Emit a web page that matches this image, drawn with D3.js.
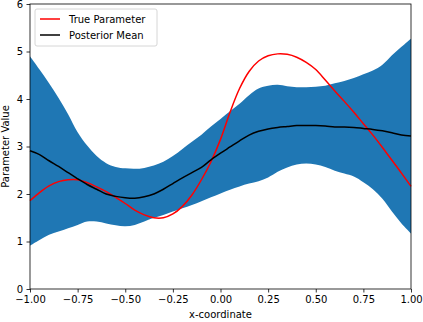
<!DOCTYPE html>
<html>
<head>
<meta charset="utf-8">
<script src="https://cdnjs.cloudflare.com/ajax/libs/d3/7.8.5/d3.min.js"></script>
<style>
  body { margin: 0; background: #fff; }
  text { font-family: "DejaVu Sans", sans-serif; fill: #000; }
</style>
</head>
<body>
<svg width="423" height="322"></svg>
<script>
var svg = d3.select("svg"),
    margin = { left: 30, right: 12, top: 4, bottom: 33 },
    width = 423 - margin.left - margin.right,
    height = 322 - margin.top - margin.bottom;

// x grid for all series, step 0.05
var xs = d3.range(41).map(function (i) { return +(-1 + i * 0.05).toFixed(2); });

var trueParam = [1.86, 2.03, 2.17, 2.26, 2.30, 2.30, 2.24, 2.15, 2.05, 1.93,
                 1.80, 1.66, 1.56, 1.50, 1.50, 1.58, 1.74, 1.98, 2.30, 2.68,
                 3.15, 3.72, 4.22, 4.58, 4.80, 4.91, 4.95, 4.94, 4.88, 4.77,
                 4.62, 4.40, 4.17, 3.95, 3.72, 3.48, 3.24, 2.98, 2.71, 2.44, 2.16];

var postMean = [2.91, 2.83, 2.70, 2.58, 2.45, 2.32, 2.20, 2.10, 2.00, 1.95,
                1.92, 1.91, 1.94, 2.00, 2.10, 2.22, 2.34, 2.45, 2.56, 2.72,
                2.86, 2.99, 3.12, 3.24, 3.32, 3.37, 3.40, 3.42, 3.44, 3.44,
                3.44, 3.43, 3.41, 3.41, 3.40, 3.38, 3.36, 3.33, 3.29, 3.24, 3.22];

var bandUpper = [4.90, 4.62, 4.33, 4.02, 3.68, 3.30, 3.02, 2.80, 2.65, 2.57,
                 2.54, 2.53, 2.55, 2.60, 2.68, 2.80, 2.95, 3.10, 3.25, 3.42,
                 3.58, 3.74, 3.90, 4.08, 4.22, 4.28, 4.30, 4.27, 4.25, 4.25,
                 4.26, 4.28, 4.33, 4.38, 4.44, 4.52, 4.60, 4.72, 4.92, 5.10, 5.27];

var bandLower = [0.91, 1.03, 1.14, 1.21, 1.28, 1.35, 1.42, 1.42, 1.38, 1.34,
                 1.32, 1.35, 1.42, 1.50, 1.56, 1.63, 1.70, 1.77, 1.85, 1.93,
                 2.01, 2.09, 2.16, 2.22, 2.27, 2.35, 2.47, 2.56, 2.62, 2.64,
                 2.62, 2.57, 2.49, 2.43, 2.37, 2.25, 2.10, 1.90, 1.63, 1.38, 1.17];

var xTicks = [-1, -0.75, -0.5, -0.25, 0, 0.25, 0.5, 0.75, 1];
var yTicks = [0, 1, 2, 3, 4, 5, 6];

var x = d3.scaleLinear().domain([-1, 1]).range([0, width]);
var y = d3.scaleLinear().domain([0, 6]).range([height, 0]);

var g = svg.append("g").attr("transform", "translate(" + margin.left + "," + margin.top + ")");

var area = d3.area()
    .x(function (d, i) { return x(xs[i]); })
    .y0(function (d, i) { return y(bandLower[i]); })
    .y1(function (d, i) { return y(bandUpper[i]); })
    .curve(d3.curveCatmullRom);

g.append("path")
    .datum(xs)
    .attr("d", area)
    .attr("fill", "#1f77b4");

var line = d3.line()
    .x(function (d, i) { return x(xs[i]); })
    .y(function (d) { return y(d); })
    .curve(d3.curveCatmullRom);

g.append("path").datum(trueParam).attr("d", line)
    .attr("fill", "none").attr("stroke", "red").attr("stroke-width", 1.5);
g.append("path").datum(postMean).attr("d", line)
    .attr("fill", "none").attr("stroke", "black").attr("stroke-width", 1.5);

var fmt = function (d) { return d3.format(".2f")(d).replace("-", "\u2212"); };

var xAxis = g.append("g")
    .attr("transform", "translate(0," + height + ")")
    .call(d3.axisBottom(x).tickValues(xTicks).tickFormat(fmt).tickSize(3.5).tickPadding(3.5));
var yAxis = g.append("g")
    .call(d3.axisLeft(y).tickValues(yTicks).tickFormat(d3.format("d")).tickSize(3.5).tickPadding(3.5));

[xAxis, yAxis].forEach(function (a) {
    a.select(".domain").remove();
    a.selectAll("text").attr("font-size", 10).attr("font-family", "DejaVu Sans").attr("fill", "#000");
    a.selectAll("line").attr("stroke", "#000").attr("stroke-width", 0.8);
});

// frame
g.append("rect")
    .attr("width", width).attr("height", height)
    .attr("fill", "none").attr("stroke", "#000").attr("stroke-width", 0.8);

// axis labels
svg.append("text")
    .attr("x", margin.left + width / 2).attr("y", 318)
    .attr("text-anchor", "middle").attr("font-size", 10)
    .text("x-coordinate");
svg.append("text")
    .attr("transform", "translate(9," + (margin.top + height / 2) + ") rotate(-90)")
    .attr("text-anchor", "middle").attr("font-size", 10)
    .text("Parameter Value");

// legend
var legendItems = [{ name: "True Parameter", color: "red" }, { name: "Posterior Mean", color: "black" }];
var lg = g.append("g").attr("transform", "translate(5,5)");
lg.append("rect")
    .attr("width", 122).attr("height", 37).attr("rx", 2)
    .attr("fill", "#fff").attr("fill-opacity", 0.8)
    .attr("stroke", "#ccc").attr("stroke-width", 0.8);
var li = lg.selectAll("g.item").data(legendItems).enter().append("g")
    .attr("class", "item")
    .attr("transform", function (d, i) { return "translate(0," + (10 + i * 16) + ")"; });
li.append("line")
    .attr("x1", 5).attr("x2", 25).attr("y1", 0).attr("y2", 0)
    .attr("stroke", function (d) { return d.color; }).attr("stroke-width", 1.5);
li.append("text")
    .attr("x", 34).attr("y", 3.5).attr("font-size", 10)
    .text(function (d) { return d.name; });
</script>
</body>
</html>
